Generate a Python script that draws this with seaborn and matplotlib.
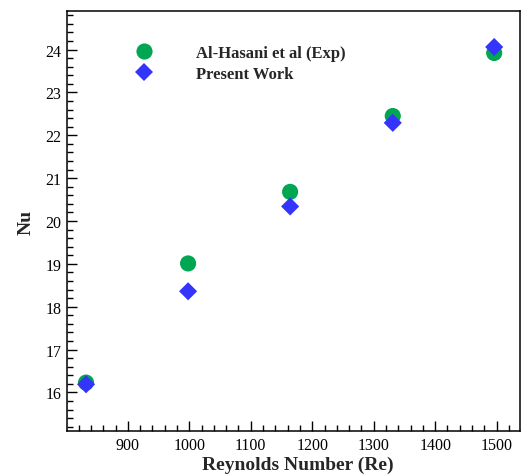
import numpy as np
import pandas as pd
import seaborn as sns
import matplotlib
matplotlib.use("Agg")
import matplotlib.pyplot as plt
from matplotlib.ticker import MultipleLocator

reynolds = [832, 998, 1164, 1331, 1496]
nu_exp = [16.23, 19.01, 20.68, 22.45, 23.92]
nu_present = [16.19, 18.36, 20.34, 22.29, 24.06]
series_names = ["Al-Hasani et al (Exp)", "Present Work"]

df = pd.DataFrame({
    "Re": reynolds * 2,
    "Nu": nu_exp + nu_present,
    "Series": [series_names[0]] * len(reynolds) + [series_names[1]] * len(reynolds),
})

sns.set_theme(style="ticks")
plt.rcParams["font.family"] = ["Liberation Serif", "DejaVu Serif"]

fig = plt.figure(figsize=(5.21, 4.77), dpi=100)
ax = fig.add_axes([67 / 521, 45 / 477, 453 / 521, 420 / 477])

sns.scatterplot(data=df, x="Re", y="Nu", hue="Series", style="Series",
                hue_order=series_names, style_order=series_names,
                palette={series_names[0]: "#00A651", series_names[1]: "#3434FA"},
                markers={series_names[0]: "o", series_names[1]: "D"},
                size="Series", sizes={series_names[0]: 135, series_names[1]: 85},
                linewidth=0, ax=ax, legend=True, zorder=3)

ax.set_xlim(801, 1538)
ax.set_ylim(15.1, 24.9)
ax.xaxis.set_major_locator(MultipleLocator(100))
ax.xaxis.set_minor_locator(MultipleLocator(20))
ax.yaxis.set_major_locator(MultipleLocator(1))
ax.yaxis.set_minor_locator(MultipleLocator(0.2))
ax.tick_params(which="both", direction="in", width=1.0, colors="black",
               labelsize=11.5, top=False, right=False)
ax.tick_params(which="major", length=7.5, pad=4)
ax.tick_params(which="minor", length=4)
for s in ax.spines.values():
    s.set_linewidth(1.1)
    s.set_color("black")

ax.set_xlabel("Reynolds Number (Re)", fontsize=14, fontweight="bold")
ax.set_ylabel("Nu", fontsize=14, fontweight="bold", labelpad=8)
ax.xaxis.set_label_coords(0.51, -0.058)

handles, labels = ax.get_legend_handles_labels()
leg = ax.legend(handles, labels, loc="upper left", bbox_to_anchor=(0.101, 0.955),
                frameon=False, fontsize=12, handletextpad=2.1,
                labelspacing=0.3, markerscale=1.0)
for t in leg.get_texts():
    t.set_fontweight("bold")

fig.savefig("out.png", dpi=100)
